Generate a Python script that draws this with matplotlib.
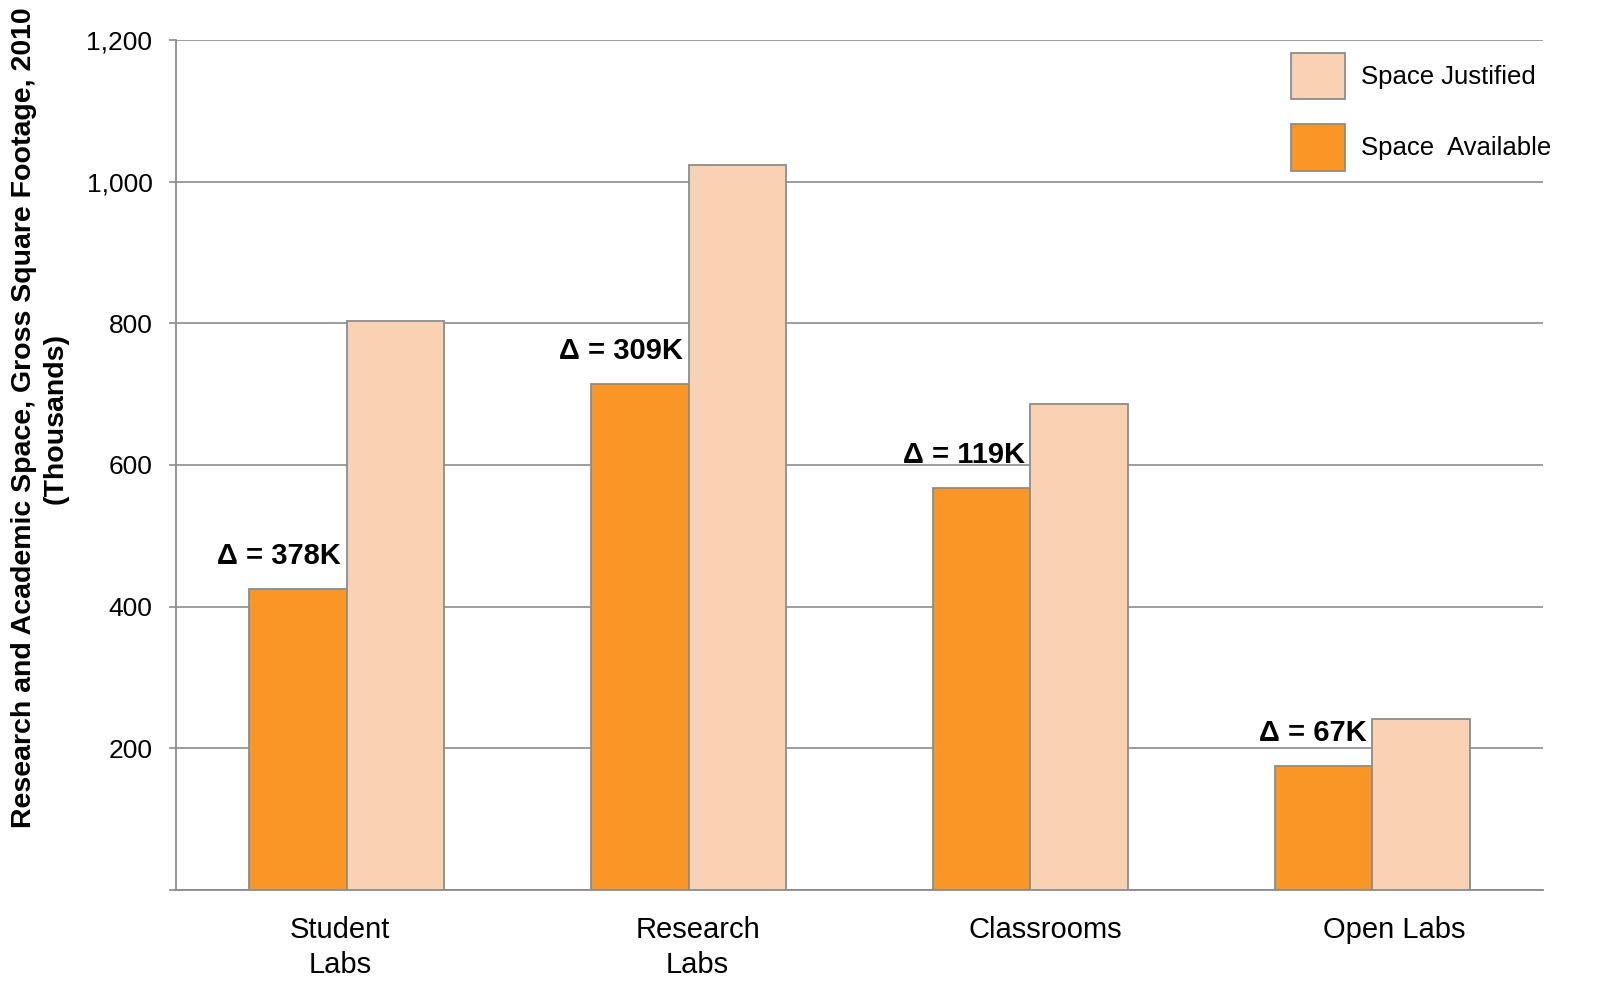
import numpy as np
import matplotlib
matplotlib.use("Agg")
import matplotlib.pyplot as plt
import matplotlib.transforms as mtransforms
from matplotlib.patches import Patch

plt.rcParams['font.family'] = ['Liberation Sans', 'DejaVu Sans']

# data (thousands of gross square feet)
categories = ["Student\nLabs", "Research\nLabs", "Classrooms", "Open Labs"]
space_available = [425, 714, 567, 175]
space_justified = [803, 1023, 686, 242]
delta_labels = ["\u0394 = 378K", "\u0394 = 309K", "\u0394 = 119K", "\u0394 = 67K"]
y_ticks = [0, 200, 400, 600, 800, 1000, 1200]

c_avail = "#FA9625"
c_just = "#F9D2B4"
c_edge = "#8C8C8C"

fig = plt.figure(figsize=(16.08, 10.05), dpi=100)
ax = fig.add_axes([176 / 1608, 1 - 890 / 1005, 1367 / 1608, 850 / 1005])

x = np.arange(len(categories))
w = 0.285
ax.bar(x - w / 2, space_available, w, color=c_avail, edgecolor=c_edge,
       linewidth=1.3, zorder=3)
ax.bar(x + w / 2, space_justified, w, color=c_just, edgecolor=c_edge,
       linewidth=1.3, zorder=3)

for i in range(len(categories)):
    ax.annotate(delta_labels[i], (x[i], space_available[i]),
                xytext=(-4, 18), textcoords="offset points",
                ha="right", va="baseline", fontsize=21, fontweight="bold",
                zorder=4)

ax.set_xlim(-0.5, len(categories) - 0.5)
ax.set_ylim(0, 1200)
ax.set_yticks(y_ticks)
ax.set_yticklabels(["" if v == 0 else f"{v:,}" for v in y_ticks], fontsize=19)
ax.set_xticks(x)
ax.set_xticklabels(categories, fontsize=21, linespacing=1.3)
ax.tick_params(axis="x", length=0, pad=19)
ax.tick_params(axis="y", length=5, width=1.2, color=c_edge, pad=12)

# category labels sit a little off the bar-pair centres in the original
label_shift_px = [-7, 9, 15, 22]
for lbl, dx in zip(ax.get_xticklabels(), label_shift_px):
    lbl.set_transform(lbl.get_transform() +
                      mtransforms.ScaledTranslation(dx / 100, 0, fig.dpi_scale_trans))

ax.grid(axis="y", color=c_edge, linewidth=1.2, zorder=0)
for s in ["top", "right"]:
    ax.spines[s].set_visible(False)
for s in ["left", "bottom"]:
    ax.spines[s].set_color(c_edge)
    ax.spines[s].set_linewidth(1.3)

fig.text(40 / 1608, 1 - 418 / 1005,
         "Research and Academic Space, Gross Square Footage, 2010\n(Thousands)",
         rotation=90, ha="center", va="center", multialignment="center",
         fontsize=20.5, fontweight="bold", linespacing=1.25)

handles = [Patch(facecolor=c_just, edgecolor=c_edge, linewidth=1.3),
           Patch(facecolor=c_avail, edgecolor=c_edge, linewidth=1.3)]
ax.legend(handles, ["Space Justified", "Space  Available"],
          loc="upper left", bbox_to_anchor=(0.816, 0.985), frameon=False,
          fontsize=18.5, borderpad=0, borderaxespad=0, handlelength=2.1,
          handleheight=2.4, handletextpad=0.62, labelspacing=0.98)

fig.savefig("out.png", dpi=100)
